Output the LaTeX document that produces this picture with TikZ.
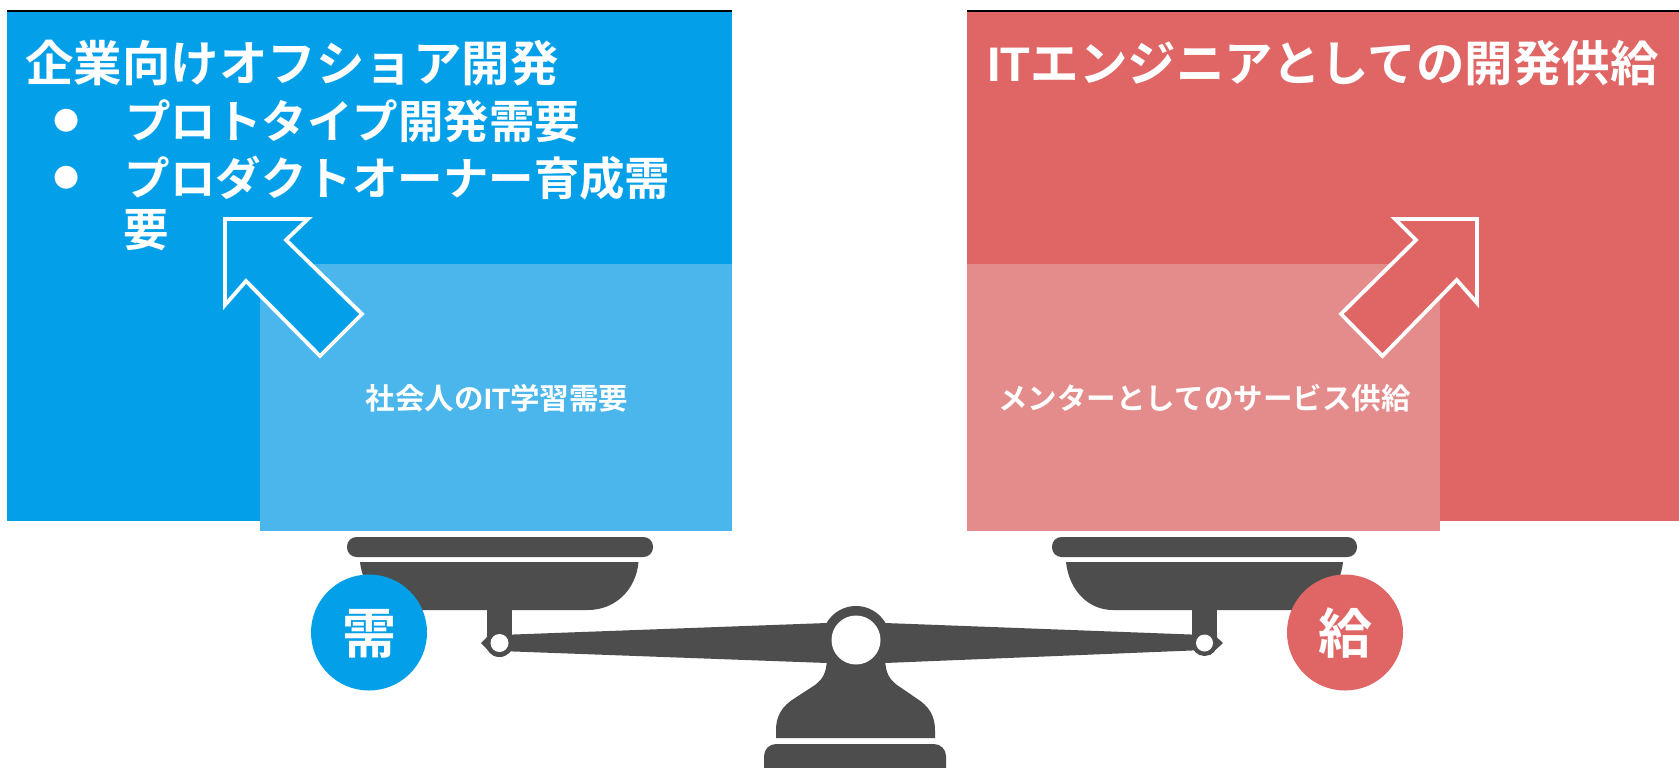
\documentclass[tikz,border=0pt]{standalone}
\usepackage{fontspec}
\setmainfont{Noto Sans CJK JP}[BoldFont={* Bold}]
\newfontfamily\latinbold{Liberation Sans}[Scale=1,BoldFont={Liberation Sans Bold}]
\newfontfamily\bulletfont{DejaVu Sans}
\definecolor{mainblue}{HTML}{03A0E9}
\definecolor{softblue}{HTML}{4AB6EB}
\definecolor{mainred}{HTML}{E06666}
\definecolor{softred}{HTML}{E48B8B}
\definecolor{scalegrey}{HTML}{4D4D4D}
\newcommand{\fs}[1]{\fontsize{#1}{#1}\selectfont\bfseries}
\newcommand{\ITtext}{{\latinbold\bfseries IT}}
\tikzset{
  x=1pt,y=-1pt,
  txt/.style={text=white,inner sep=0pt,outer sep=0pt,anchor=center},
  title/.style={txt,font=\fs{48.5}},
  item/.style={txt,font=\fs{45.5}},
  small/.style={txt,font=\fs{29.5}},
  bul/.style={txt,font=\bulletfont\fontsize{30}{30}\selectfont},
  blockarrow/.style={draw=white,line width=3.8pt,miter limit=10},
  topline/.style={draw=black,line width=1.5pt},
  badge/.style={circle,minimum size=116pt,inner sep=0pt,text=white},
  badgetext/.style={txt,font=\fs{54}},
  scalepart/.style={fill=scalegrey},
}
\begin{document}
\begin{tikzpicture}
\clip (0,0) rectangle (1679,768);
\fill[white] (0,0) rectangle (1679,768);
% main panels
\fill[mainblue] (7,12) rectangle (732,521);
\fill[softblue] (260,264) rectangle (732,531);
\fill[mainred] (967,12) rectangle (1679,521);
\fill[softred] (967,264) rectangle (1440,531);
\draw[topline] (7,11) -- (732,11);
\draw[topline] (967,11) -- (1679,11);
% block arrows
\filldraw[blockarrow,fill=mainblue] (225,219) -- (308,219) -- (286,240) -- (362,314) -- (320,356) -- (246,281) -- (225,305) -- cycle;
\filldraw[blockarrow,fill=mainred] (1477,219) -- (1395,219) -- (1416,240) -- (1341,314) -- (1382.4,356) -- (1456.7,280) -- (1477,303) -- cycle;
% texts
\node[title] (t1) at (292,63.5) {企業向けオフショア開発};
\node[bul] (b1) at (67,121) {●};
\node[item] (i1) at (352.5,121) {プロトタイプ開発需要};
\node[bul] (b2) at (67,178) {●};
\node[item] (i2) at (397.5,178) {プロダクトオーナー育成需};
\node[item] (i3) at (146,230) {要};
\node[title] (t2) at (1323,63.5) {\ITtext エンジニアとしての開発供給};
\node[small] (s1) at (497,398.5) {社会人の\ITtext 学習需要};
\node[small] (s2) at (1204.5,398.5) {メンターとしてのサービス供給};
% scale: left pan
\fill[scalepart,rounded corners=9.5pt] (347,537) rectangle (653,557);
\fill[scalepart] (360,562) -- (638.5,562) .. controls (636,590) and (615,610) .. (588,610) -- (410,610) .. controls (385,610) and (363,590) .. (360,562) -- cycle;
\fill[scalepart] (487,608) rectangle (512,645);
% scale: right pan
\fill[scalepart,rounded corners=9.5pt] (1052,537) rectangle (1357,557);
\fill[scalepart] (1066,562) -- (1343,562) .. controls (1340,590) and (1320,610) .. (1295,610) -- (1113,610) .. controls (1088,610) and (1069,590) .. (1066,562) -- cycle;
\fill[scalepart] (1192,608) rectangle (1217,645);
% beam
\fill[scalepart] (500,635) -- (827,623) -- (885,623) -- (1204,635) -- (1204,650) -- (885,663) -- (827,663) -- (500,651) -- cycle;
\fill[scalepart] (856,640) circle (34);
\fill[scalepart] (499.5,643) circle (14);
\fill[scalepart] (481,643) -- (494,630) -- (494,656) -- cycle;
\fill[scalepart] (1204.5,643) circle (13);
\fill[scalepart] (1223,643) -- (1210,631) -- (1210,655) -- cycle;
% base
\fill[scalepart] (827,660) .. controls (826,672) and (824,678) .. (815,685) -- (795,698) .. controls (782,706) and (776,716) .. (776,730) -- (776,738) -- (935,738) -- (935,730) .. controls (935,716) and (929,706) .. (916,698) -- (897,685) .. controls (888,678) and (886,672) .. (885,660) -- cycle;
\fill[scalepart,rounded corners=12pt] (764,744) rectangle (946,790);
% holes
\fill[white] (856,640) circle (24.5);
\fill[white] (499.5,643) circle (9);
\fill[white] (1204.5,643) circle (8.5);
% badges
\node[badge,fill=mainblue] (need) at (369,632.5) {};
\node[badgetext] (needtext) at (369.5,633.5) {需};
\node[badge,fill=mainred] (supply) at (1345,632.5) {};
\node[badgetext] (supplytext) at (1345.5,633.5) {給};
\end{tikzpicture}
\end{document}
